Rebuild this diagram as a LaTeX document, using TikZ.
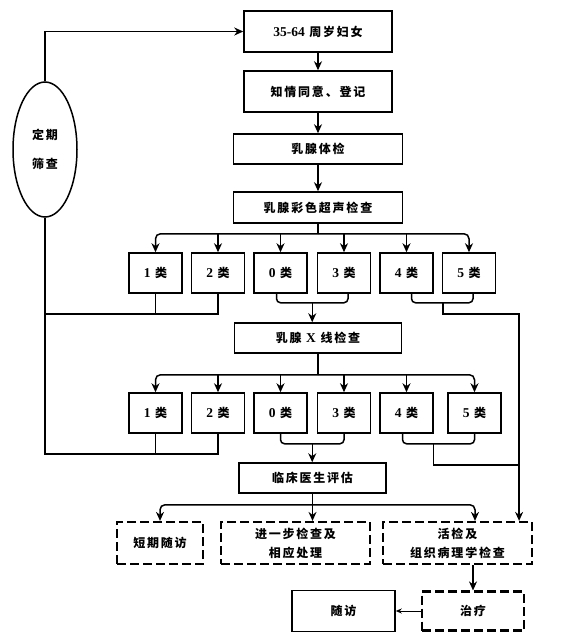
\documentclass[tikz,border=0pt]{standalone}
\usepackage{fontspec}
\setmainfont{Liberation Serif}
\newfontfamily\cjk{Noto Sans CJK SC}[LetterSpace=15]
\newfontfamily\latf{Liberation Serif}
\newcommand\lat[1]{{\latf\fontsize{13.5}{19}\selectfont #1}}
\usetikzlibrary{arrows.meta,shapes.geometric,calc}

\tikzset{
  box/.style 2 args={draw, line width=1.5pt, minimum width=#1, minimum height=#2,
    inner sep=0pt, align=center},
  dbox/.style 2 args={draw, line width=2.2pt, dash pattern=on 9pt off 4pt,
    minimum width=#1, minimum height=#2, inner sep=0pt, align=center},
  oval/.style={ellipse, draw, line width=1.5pt, minimum width=64, minimum height=135,
    inner sep=0pt, align=center},
}

\begin{document}
\begin{tikzpicture}[x=1pt, y=-1pt, line width=1.5pt,
  >={Stealth[length=9pt,width=8pt]},
  every node/.style={font=\cjk\bfseries\fontsize{12}{19}\selectfont}]

  \fill[white] (0,0) rectangle (560,643);
  \useasboundingbox (0,0) rectangle (560,643);

  % --- 1. 主流程 ---
  \node[box={148}{41}] (n1) at (318,31.5) {\lat{35-64} 周岁妇女};
  \node[box={148}{41}] (n2) at (318,91.5) {知情同意、登记};
  \node[box={169}{30}] (n3) at (318,149) {乳腺体检};
  \node[box={169}{31}] (n4) at (318,207.5) {乳腺彩色超声检查};
  \node[oval] (cy) at (45,149.5) {定期\\[10pt]筛查};

  \draw[->] (cy.north) |- (n1.west);
  \draw[->] (n1) -- (n2);
  \draw[->] (n2) -- (n3);
  \draw[->] (n3) -- (n4);

  % --- 2. 超声分类 ---
  \foreach \k/\x/\t in {1/155.5/1, 2/218/2, 3/280.5/0, 4/344/3, 5/406.5/4, 6/469/5}
    \node[box={53}{40}] (a\k) at (\x,273) {\lat{\t} 类};

  \coordinate (u0) at ($(n4.south)+(0,10)$);
  \draw (n4.south) -- (u0);
  \draw[->, rounded corners=5pt] (u0) -| (a1.north);
  \draw[->, rounded corners=5pt] (u0) -| (a6.north);
  \foreach \k in {2,...,5}
    \draw[->] (u0 -| a\k.north) -- (a\k.north);

  \node[box={167}{30}] (n5) at (318,338) {乳腺 \lat{X} 线检查};

  % 1类、2类 -> 定期筛查
  \coordinate (j1) at ($(a2.south)+(0,20)$);
  \draw (a2.south) -- (j1) -- (j1 -| cy.south);
  \draw (a1.south) -- (a1.south |- j1);

  % 0类、3类 -> X线
  \draw[rounded corners=4pt] ($(a3.south)+(-4,0)$) -- ++(0,9) -| ($(a4.south)+(4,0)$);
  \coordinate (m1) at ($(a3.south)!0.5!(a4.south)+(0,9)$);
  \draw[->] (m1) -- (m1 |- n5.north);

  % 4类、5类 -> 活检
  \draw[rounded corners=4pt] ($(a5.south)+(5,0)$) -- ++(0,9) -| ($(a6.south)+(4,0)$);
  \coordinate (m2) at ($(a5.south)!0.5!(a6.south)+(5,9)$);

  % --- 3. X线分类 ---
  \foreach \k/\x/\t in {1/155.5/1, 2/218/2, 3/280.5/0, 4/344/3, 5/406.5/4, 6/474.5/5}
    \node[box={53}{40}] (b\k) at (\x,413) {\lat{\t} 类};

  \coordinate (x0) at ($(n5.south)+(0,21)$);
  \draw (n5.south) -- (x0);
  \draw[->, rounded corners=5pt] (x0) -| (b1.north);
  \draw[->, rounded corners=5pt] (x0) -| (b6.north);
  \foreach \k in {2,...,5}
    \draw[->] (x0 -| b\k.north) -- (b\k.north);

  \node[box={147}{30}] (n6) at (312.5,478) {临床医生评估};

  \coordinate (j2) at ($(b2.south)+(0,20)$);
  \draw (cy.south) |- (j2) -- (b2.south);
  \draw (b1.south) -- (b1.south |- j2);

  \draw[rounded corners=4pt] (b3.south) -- ++(0,10) -| (b4.south);
  \coordinate (m3) at ($(b3.south)!0.5!(b4.south)+(0,10)$);
  \draw[->] (m3) -- (m3 |- n6.north);

  \draw[rounded corners=4pt] ($(b5.south)+(-4,0)$) -- ++(0,10) -| (b6.south);
  \coordinate (m4) at ($(b5.south)!0.4!(b6.south)+(0,10)$);

  % --- 4. 评估结果 ---
  \node[dbox={86}{42}] (d1) at (160,543) {短期随访};
  \node[dbox={149}{42}] (d2) at (295.5,543) {进一步检查及\\相应处理};
  \node[dbox={149}{42}] (d3) at (457.5,543) {活检及\\组织病理学检查};
  \node[dbox={102}{39}] (t1) at (473,611) {治疗};
  \node[box={103}{41}] (f1) at (343.5,611) {随访};

  \coordinate (rx) at ($(d3.north east)+(-14,0)$);
  \draw[->] (m2) -- ++(0,11) -| (rx);
  \draw (m4) -- ++(0,21) coordinate (m5) -- (m5 -| rx);

  \coordinate (k0) at ($(n6.south)+(0,11)$);
  \draw (n6.south) -- (k0);
  \draw[->, rounded corners=5pt] (k0) -| (d1.north);
  \draw[->, rounded corners=5pt] (k0) -| ($(d3.north)+(17.5,0)$);
  \draw[->] (k0) -- (k0 |- d2.north);

  \draw[->] (t1.north |- d3.south) -- (t1.north);
  \draw[->, line width=1pt, >={Stealth[length=6pt,width=5pt]}] (t1.west) -- (f1.east);

\end{tikzpicture}
\end{document}
